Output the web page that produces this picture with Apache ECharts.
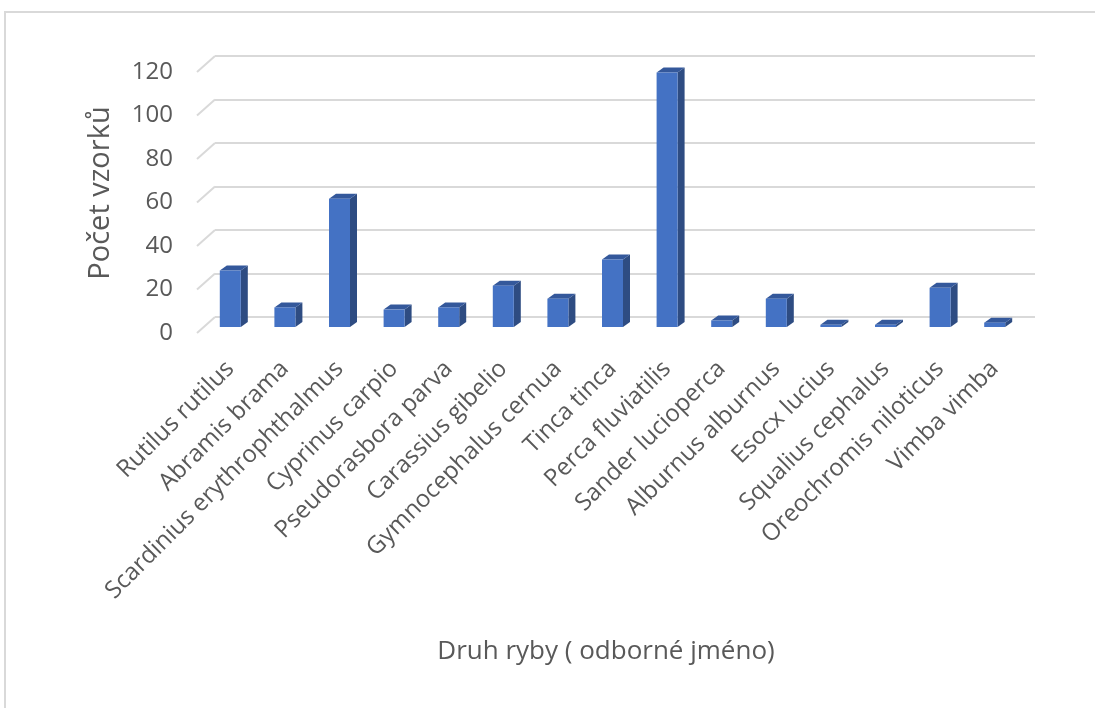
<!DOCTYPE html>
<html>
<head>
<meta charset="utf-8">
<script src="https://cdn.jsdelivr.net/npm/echarts@6/dist/echarts.min.js"></script>
<style>
html,body{margin:0;padding:0;background:#fff;}
#chart{width:1095px;height:708px;}
</style>
</head>
<body>
<div id="chart"></div>
<script>
const categories = ["Rutilus rutilus","Abramis brama","Scardinius erythrophthalmus","Cyprinus carpio","Pseudorasbora parva","Carassius gibelio","Gymnocephalus cernua","Tinca tinca","Perca fluviatilis","Sander lucioperca","Alburnus alburnus","Esocx lucius","Squalius cephalus","Oreochromis niloticus","Vimba vimba"];
const counts = [26, 9, 59, 8, 9, 19, 13, 31, 117, 3, 13, 1, 1, 18, 2];
const yTicks = [0, 20, 40, 60, 80, 100, 120];
const yTitle = "Počet vzorků";
const xTitle = "Druh ryby ( odborné jméno)";

const FONT = "Open Sans";
const TXT = "#595959";
const chart = echarts.init(document.getElementById('chart'));

const option = {
  animation: false,
  backgroundColor: '#fff',
  grid: [
    {left: 215, top: 56, width: 820, height: 261},   // back wall
    {left: 183, top: 72, width: 10, height: 261},    // front labels
    {left: 203, top: 66, width: 819, height: 261}    // bars front plane
  ],
  xAxis: [
    {gridIndex: 0, type: 'category', data: categories, show: false},
    {gridIndex: 1, type: 'category', data: [''], show: false},
    {gridIndex: 2, type: 'category', data: categories,
     axisLine: {show: false}, axisTick: {show: false},
     axisLabel: {rotate: 45, interval: 0, margin: 38, color: TXT, fontFamily: FONT, fontSize: 24}}
  ],
  yAxis: [
    {gridIndex: 0, type: 'value', min: 0, max: 120, interval: 20,
     axisLabel: {show: false}, axisLine: {show: false}, axisTick: {show: false},
     splitLine: {lineStyle: {color: '#d9d9d9', width: 2}}},
    {gridIndex: 1, type: 'value', min: 0, max: 120, interval: 20,
     axisLine: {show: false}, axisTick: {show: false}, splitLine: {show: false},
     axisLabel: {margin: 10, color: TXT, fontFamily: FONT, fontSize: 24,
       formatter: v => yTicks.includes(v) ? String(v) : ''}},
    {gridIndex: 2, type: 'value', min: 0, max: 120, show: false, splitLine: {show: false}}
  ],
  series: [
    {
      type: 'custom', xAxisIndex: 0, yAxisIndex: 0,
      data: yTicks.map(v => [0, v]),
      silent: true,
      renderItem: (params, api) => {
        const p = api.coord([0, api.value(1)]);
        const x0 = params.coordSys.x;
        return {type: 'line', shape: {x1: x0 - 18, y1: p[1] + 16, x2: x0, y2: p[1]},
                style: {stroke: '#d9d9d9', lineWidth: 2}};
      }
    },
    {
      type: 'custom', xAxisIndex: 2, yAxisIndex: 2,
      data: counts.map((v, i) => [i, v]),
      renderItem: (params, api) => {
        const i = api.value(0), v = api.value(1);
        const t = api.coord([i, v]);
        const b = api.coord([i, 0]);
        const w = 21, dx = 7, dy = -5;
        const x0 = t[0] - w / 2;
        return {type: 'group', children: [
          {type: 'polygon', shape: {points: [[x0 + w, t[1]], [x0 + w + dx, t[1] + dy], [x0 + w + dx, b[1] + dy], [x0 + w, b[1]]]},
           style: {fill: '#2E4C82'}},
          {type: 'polygon', shape: {points: [[x0, t[1]], [x0 + dx, t[1] + dy], [x0 + w + dx, t[1] + dy], [x0 + w, t[1]]]},
           style: {fill: '#34589B'}},
          {type: 'rect', shape: {x: x0, y: t[1], width: w, height: b[1] - t[1]},
           style: {fill: '#4472C4'}}
        ]};
      }
    }
  ],
  graphic: [
    {type: 'rect', shape: {x: 5, y: 12, width: 1200, height: 800},
     style: {fill: 'none', stroke: '#d9d9d9', lineWidth: 2}, silent: true},
    {type: 'text', x: 101, y: 193, rotation: Math.PI / 2,
     style: {text: yTitle, fill: TXT, font: '29px "Open Sans"', textAlign: 'center', textVerticalAlign: 'middle'}},
    {type: 'text', x: 606, y: 652,
     style: {text: xTitle, fill: TXT, font: '26px "Open Sans"', textAlign: 'center', textVerticalAlign: 'middle'}}
  ]
};
chart.setOption(option);
</script>
</body>
</html>
